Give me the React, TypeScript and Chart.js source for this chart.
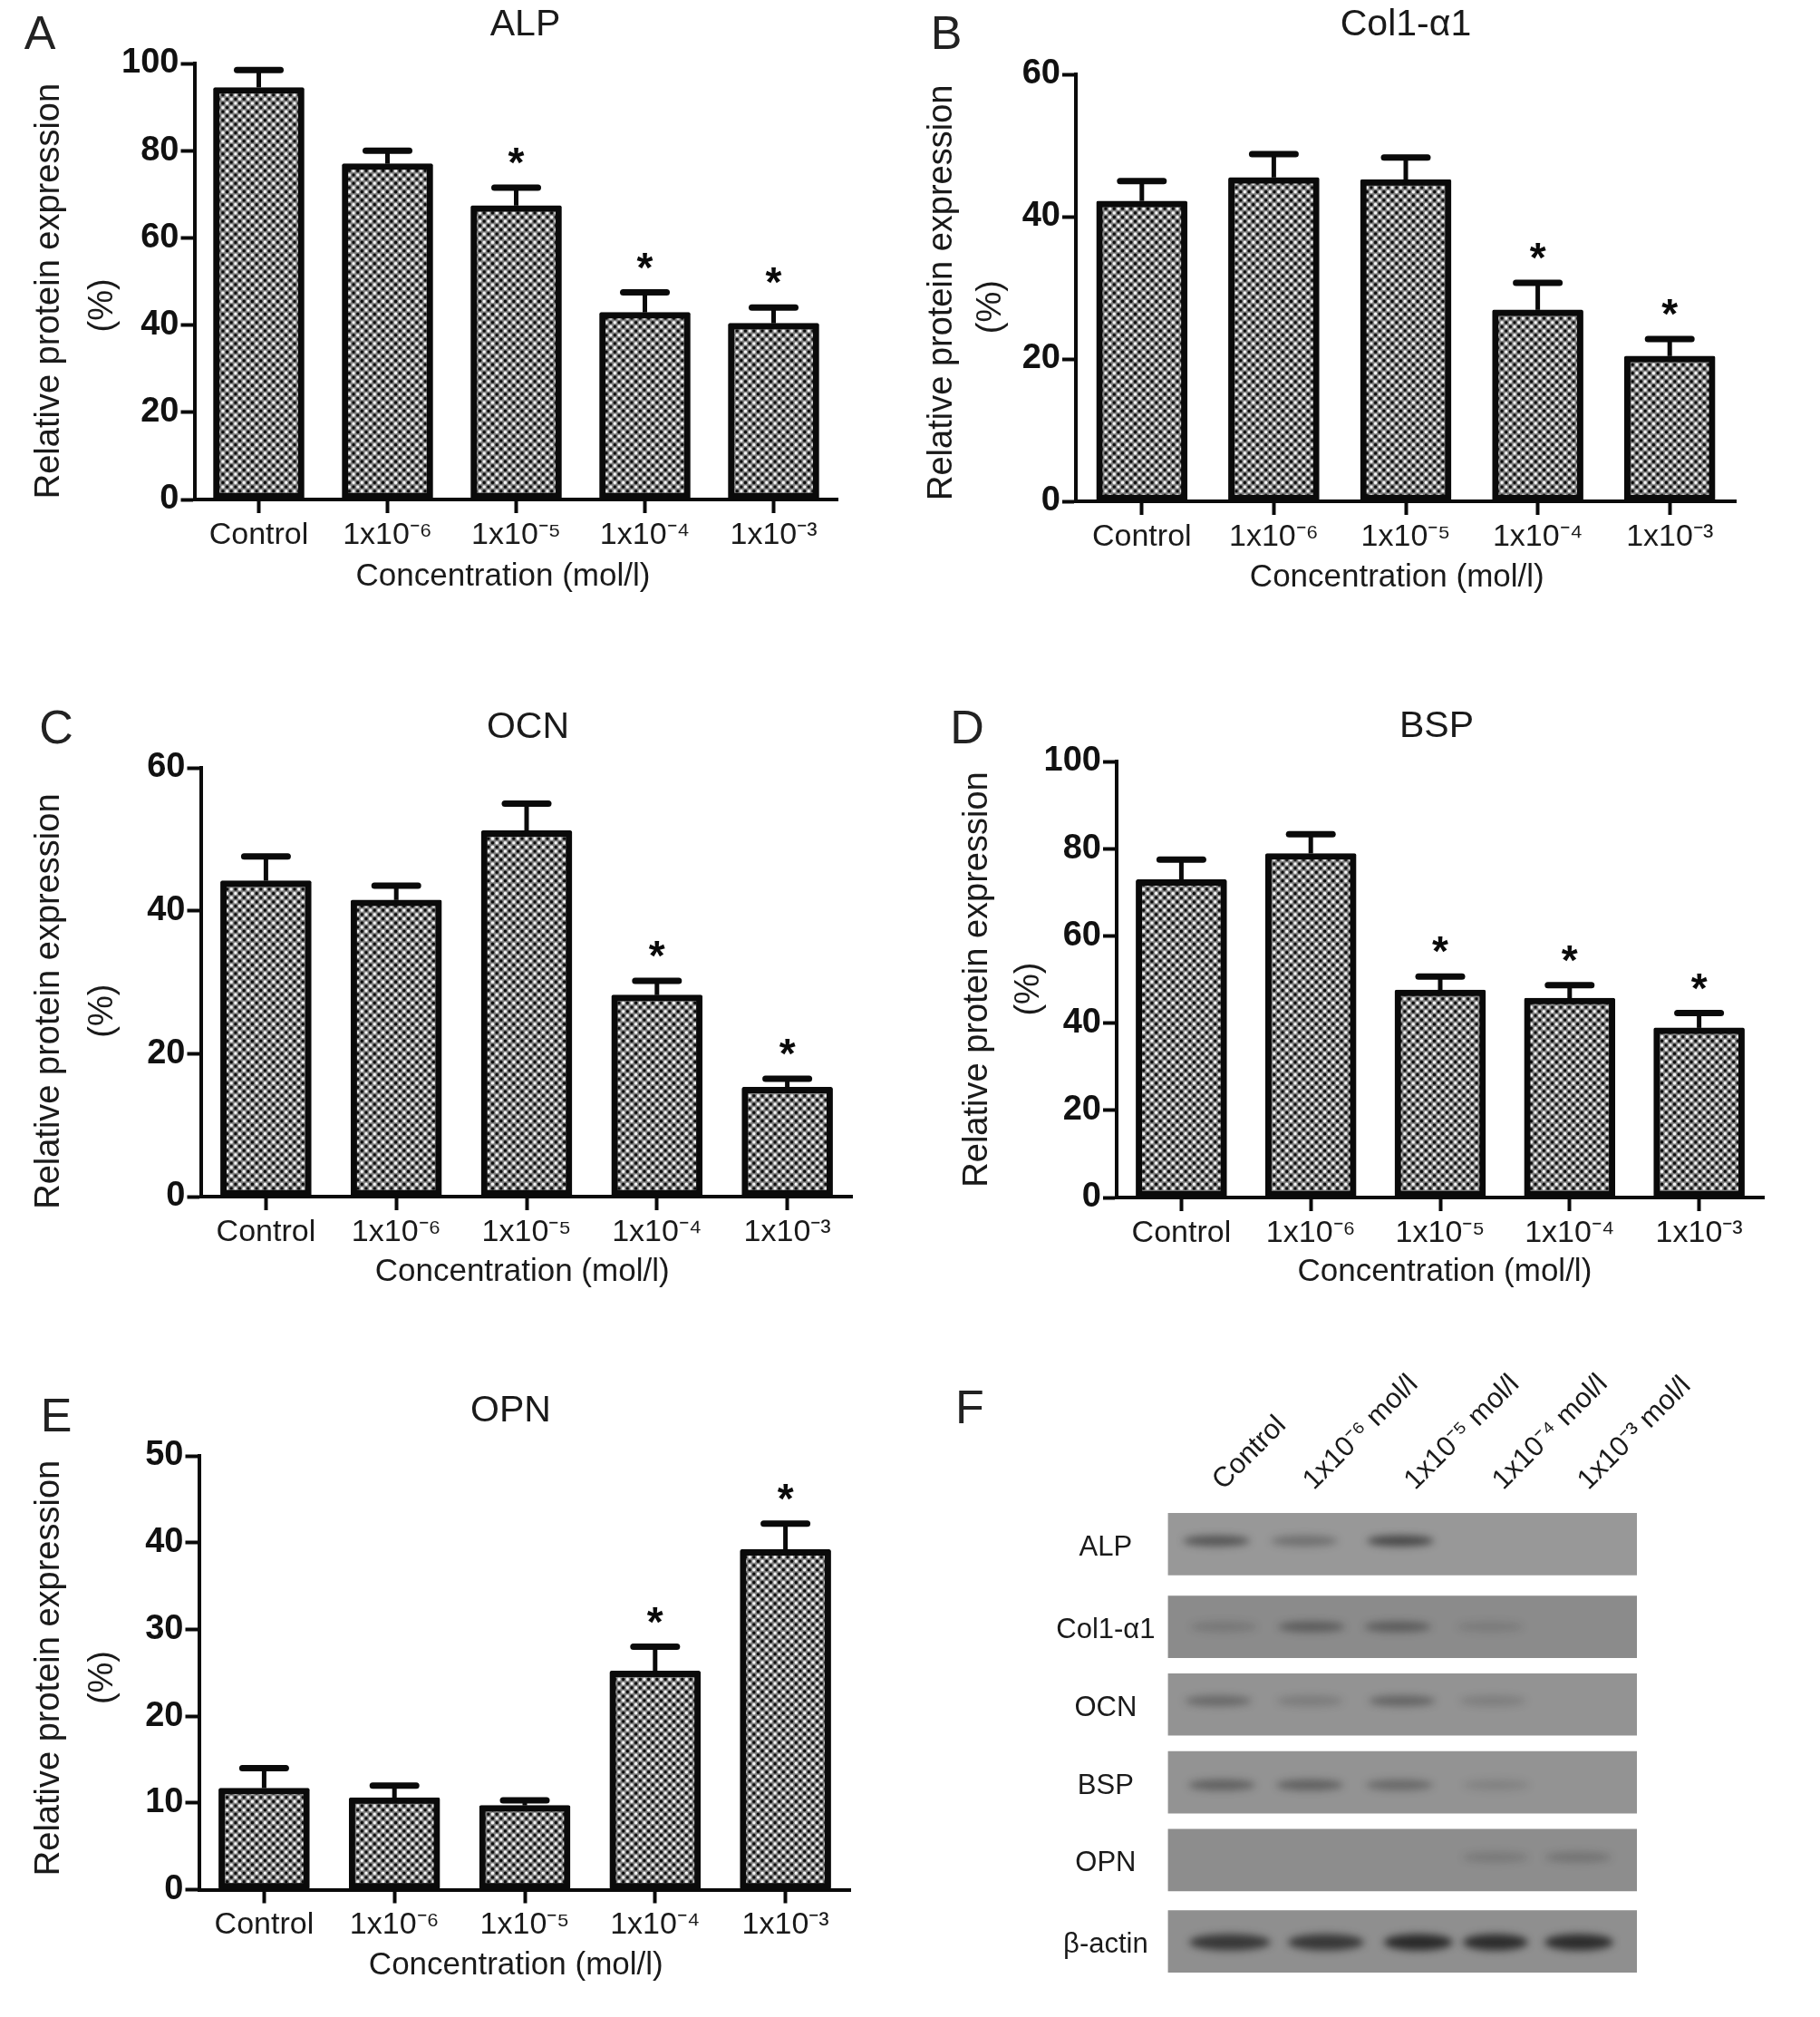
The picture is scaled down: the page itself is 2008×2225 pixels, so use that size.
import React, { useEffect, useRef } from "react";
import { Chart, registerables } from "chart.js";

Chart.register(...registerables);

const FONT = "'Liberation Sans', Arial, sans-serif";

// ---- data ----
const doseLabels = ["Control", "1x10⁻⁶", "1x10⁻⁵", "1x10⁻⁴", "1x10⁻³"];
const alpValues = [94.5, 77, 67.4, 42.9, 40.4];
const alpErrors = [4, 3, 4.1, 4.6, 3.6];
const alpStars = [false, false, true, true, true];
const colValues = [42.2, 45.5, 45.2, 26.9, 20.4];
const colErrors = [2.8, 3.3, 3.1, 3.8, 2.4];
const colStars = [false, false, false, true, true];
const ocnValues = [44.2, 41.5, 51.2, 28.2, 15.3];
const ocnErrors = [3.4, 2, 3.8, 2, 1.2];
const ocnStars = [false, false, false, true, true];
const bspValues = [72.9, 78.9, 47.6, 45.7, 38.9];
const bspErrors = [4.6, 4.4, 3.1, 3, 3.4];
const bspStars = [false, false, true, true, true];
const opnValues = [11.7, 10.6, 9.7, 25.2, 39.2];
const opnErrors = [2.3, 1.4, 0.6, 2.8, 3];
const opnStars = [false, false, false, true, true];

const blotProteins = ["ALP", "Col1-α1", "OCN", "BSP", "OPN", "β-actin"];
const blotRowAt = [0, 1.041, 2.019, 2.998, 3.976, 5];
const blotBandShift = [-3.5, 0, -4, 3, -3, 1];
const blotLanes = ["Control", "1x10⁻⁶ mol/l", "1x10⁻⁵ mol/l", "1x10⁻⁴ mol/l", "1x10⁻³ mol/l"];
const blotLabelAt = [0.23, 1.24, 2.37, 3.35, 4.3];
const blotGrey = ["#989898", "#8b8b8b", "#939393", "#939393", "#8d8d8d", "#8f8f8f"];
// band = [lane position, darkness]
const bandAlp = [[-0.05, 0.7], [0.93, 0.42], [2.0, 0.85]];
const bandCol = [[0.03, 0.22], [1.01, 0.55], [1.97, 0.55], [3.0, 0.17]];
const bandOcn = [[-0.03, 0.45], [0.99, 0.25], [2.02, 0.5], [3.03, 0.22]];
const bandBsp = [[0.01, 0.55], [0.99, 0.55], [1.99, 0.45], [3.07, 0.17]];
const bandOpn = [[3.06, 0.22], [3.98, 0.28]];
const bandActin = [[0.1, 0.78], [1.17, 0.78], [2.2, 0.9], [3.06, 0.88], [3.99, 0.88]];
const actinHalfWidth = [45, 42, 38, 36, 38];

// ---- layout (page pixels) ----
const panels = [
  { name: "ALP", letter: "A", lx: 44, ly: 36, values: alpValues, errors: alpErrors, stars: alpStars, max: 100, step: 20,
    L: 214, T: 70, R: 924, B: 551, CX: 24.5, CY: 0, tx: 579, ty: 28, xt: 636, xOff: -13, yLine: 59, yOff1: 11.5, yOff2: 27 },
  { name: "Col1-α1", letter: "B", lx: 1044, ly: 36, values: colValues, errors: colErrors, stars: colStars, max: 60, step: 20,
    L: 1187, T: 82, R: 1915, B: 553, CX: 1013, CY: 0, tx: 1551, ty: 28, xt: 637, xOff: -11, yLine: 54, yOff1: 4.5, yOff2: 20 },
  { name: "OCN", letter: "C", lx: 62, ly: 802, values: ocnValues, errors: ocnErrors, stars: ocnStars, max: 60, step: 20,
    L: 221, T: 847, R: 940, B: 1320, CX: 24.5, CY: 760, tx: 582, ty: 803, xt: 1403, xOff: -5, yLine: 59, yOff1: 19, yOff2: 30 },
  { name: "BSP", letter: "D", lx: 1067, ly: 802, values: bspValues, errors: bspErrors, stars: bspStars, max: 100, step: 20,
    L: 1232, T: 840, R: 1946, B: 1321, CX: 1050, CY: 760, tx: 1585, ty: 802, xt: 1403, xOff: 6, yLine: 57, yOff1: -2, yOff2: 10 },
  { name: "OPN", letter: "E", lx: 62, ly: 1561, values: opnValues, errors: opnErrors, stars: opnStars, max: 50, step: 10,
    L: 219, T: 1606, R: 938, B: 2084.5, CX: 24.5, CY: 1520, tx: 563, ty: 1557, xt: 2168, xOff: -12, yLine: 59, yOff1: -5, yOff2: 7 },
];

const shift = (text: string, off: number, size: number) => {
  const n = Math.round((2 * Math.abs(off)) / (size * 0.278));
  const s = " ".repeat(n);
  return off >= 0 ? s + text : text + s;
};

function makeHatch(ctx: CanvasRenderingContext2D) {
  const t = document.createElement("canvas");
  t.width = 10;
  t.height = 10;
  const c = t.getContext("2d")!;
  c.fillStyle = "#808080";
  c.fillRect(0, 0, 10, 10);
  const dot = (x: number, y: number, col: string) => {
    c.fillStyle = col;
    c.beginPath();
    c.arc(x, y, 1.9, 0, Math.PI * 2);
    c.fill();
  };
  dot(2.5, 2.5, "#f4f4f4");
  dot(7.5, 7.5, "#f4f4f4");
  dot(7.5, 2.5, "#0c0c0c");
  dot(2.5, 7.5, "#0c0c0c");
  const p = ctx.createPattern(t, "repeat")!;
  p.setTransform(new DOMMatrix().scale(0.93));
  return p;
}

const whiskers = {
  id: "whiskers",
  afterDatasetsDraw(chart: any, _a: any, o: any) {
    const { ctx, scales } = chart;
    ctx.save();
    ctx.strokeStyle = "#0a0a0a";
    chart.data.labels.forEach((_: any, i: number) => {
      const x = scales.x.getPixelForValue(i);
      const y0 = scales.y.getPixelForValue(o.values[i]);
      const y1 = scales.y.getPixelForValue(o.values[i] + o.errors[i]);
      ctx.lineCap = "butt";
      ctx.lineWidth = 5;
      ctx.beginPath();
      ctx.moveTo(x, y0);
      ctx.lineTo(x, y1);
      ctx.stroke();
      ctx.lineCap = "round";
      ctx.lineWidth = 7;
      ctx.beginPath();
      ctx.moveTo(x - 24, y1);
      ctx.lineTo(x + 24, y1);
      ctx.stroke();
      if (o.stars[i]) {
        ctx.fillStyle = "#0a0a0a";
        ctx.font = `bold 46px ${FONT}`;
        ctx.textAlign = "center";
        ctx.textBaseline = "alphabetic";
        ctx.fillText("*", x, y1 - 12);
      }
    });
    ctx.restore();
  },
};

function BarPanel({ p }: { p: (typeof panels)[number] }) {
  const ref = useRef<HTMLCanvasElement>(null);
  const CW = 2 * (p.tx - p.CX);
  const titleLH = 41 * 1.2;
  const bottom = p.xt + (35 * 1.2) / 2;
  const CH = bottom - p.CY;
  useEffect(() => {
    const canvas = ref.current!;
    const ctx = canvas.getContext("2d")!;
    const chart = new Chart(canvas, {
      type: "bar",
      plugins: [whiskers],
      data: {
        labels: doseLabels,
        datasets: [
          {
            data: p.values,
            backgroundColor: makeHatch(ctx),
            borderColor: "#0a0a0a",
            borderWidth: 7,
            borderSkipped: false,
            borderRadius: 2,
            barThickness: 100,
          },
        ],
      },
      options: {
        animation: false,
        responsive: false,
        devicePixelRatio: 1,
        layout: { padding: 0 },
        plugins: {
          legend: { display: false },
          tooltip: { enabled: false },
          title: {
            display: true,
            text: p.name,
            color: "#1a1a1a",
            font: { family: FONT, size: 41, weight: "normal", lineHeight: 1.2 },
            padding: { top: p.ty - p.CY - titleLH / 2, bottom: p.T - p.ty - titleLH / 2 },
          },
          whiskers: { values: p.values, errors: p.errors, stars: p.stars },
        },
        scales: {
          x: {
            type: "category",
            offset: true,
            afterFit: (s: any) => {
              s.height = bottom - p.B;
            },
            border: { display: true, color: "#0a0a0a", width: 4 },
            grid: { display: true, offset: false, drawOnChartArea: false, drawTicks: true, tickLength: 15, tickWidth: 4, tickColor: "#0a0a0a" },
            ticks: { color: "#1a1a1a", font: { family: FONT, size: 34 }, padding: 4, maxRotation: 0, minRotation: 0, autoSkip: false },
            title: {
              display: true,
              text: shift("Concentration (mol/l)", p.xOff, 35),
              color: "#1a1a1a",
              font: { family: FONT, size: 35, lineHeight: 1.2 },
              padding: 0,
            },
          },
          y: {
            type: "linear",
            min: 0,
            max: p.max,
            afterFit: (s: any) => {
              s.width = p.L - p.CX;
            },
            border: { display: true, color: "#0a0a0a", width: 4 },
            grid: { display: true, drawOnChartArea: false, drawTicks: true, tickLength: 15, tickWidth: 4, tickColor: "#0a0a0a" },
            ticks: { stepSize: p.step, color: "#111", font: { family: FONT, size: 38, weight: "bold" }, padding: 2 },
            title: {
              display: true,
              text: [shift("Relative protein expression", -p.yOff1, 38), shift("(%)", -p.yOff2, 38)],
              color: "#1a1a1a",
              font: { family: FONT, size: 38, lineHeight: p.yLine / 38 },
              padding: 0,
            },
          },
          // empty spacer, keeps the title centred on the canvas while the plot stops at R
          spacer: {
            type: "linear",
            axis: "y",
            position: "right",
            min: 0,
            max: 1,
            afterFit: (s: any) => {
              s.width = p.CX + CW - p.R;
            },
            border: { display: false },
            grid: { display: false },
            ticks: { display: false },
          },
        },
      },
    } as any);
    return () => chart.destroy();
  }, []);
  return (
    <canvas
      ref={ref}
      width={CW}
      height={CH}
      style={{ position: "absolute", left: p.CX, top: p.CY, width: CW, height: CH, display: "block" }}
    />
  );
}

// ---- Panel F, blot ----
const blotL = 1288.5;
const blotR = 1806;
const blotT = 1659.5;
const blotB = 2187;
const laneFirst = 1347;
const laneStep = 99;
const blotBands = [bandAlp, bandCol, bandOcn, bandBsp, bandOpn, bandActin];

const bands = {
  id: "bands",
  afterDatasetsDraw(chart: any) {
    const { ctx, scales } = chart;
    ctx.save();
    ctx.filter = "blur(4px)";
    blotBands.forEach((row, r) => {
      const actin = r === 5;
      row.forEach(([lane, v], i) => {
        const x = scales.x.getPixelForValue(lane);
        const y = scales.y.getPixelForValue(blotRowAt[r]) + blotBandShift[r];
        ctx.fillStyle = `rgba(25,25,25,${v * (actin ? 0.95 : 0.75)})`;
        ctx.beginPath();
        ctx.ellipse(x, y, actin ? actinHalfWidth[i] : 37, actin ? 9 : 6, 0, 0, Math.PI * 2);
        ctx.fill();
      });
    });
    ctx.restore();
  },
};

function BlotPanel() {
  const ref = useRef<HTMLCanvasElement>(null);
  const CX = 1120;
  const CY = 1470;
  const CW = 800;
  const CH = 740;
  useEffect(() => {
    const min = (blotL - laneFirst) / laneStep;
    const max = (blotR - laneFirst) / laneStep;
    const chart = new Chart(ref.current!, {
      type: "bar",
      plugins: [bands],
      data: {
        datasets: [
          {
            data: blotProteins.map((_, i) => ({ x: [min, max], y: blotRowAt[i] })),
            backgroundColor: blotGrey,
            borderWidth: 0,
            barThickness: 68,
          },
        ],
      },
      options: {
        indexAxis: "y",
        animation: false,
        responsive: false,
        devicePixelRatio: 1,
        layout: { padding: { left: 0, top: 0, right: CX + CW - blotR, bottom: CY + CH - blotB } },
        plugins: { legend: { display: false }, tooltip: { enabled: false } },
        scales: {
          x: {
            type: "linear",
            position: "top",
            min,
            max,
            afterBuildTicks: (s: any) => {
              s.ticks = blotLabelAt.map((value) => ({ value }));
            },
            afterFit: (s: any) => {
              s.height = blotT - CY;
            },
            border: { display: false },
            grid: { display: false },
            ticks: {
              callback: (_v: any, i: number) => blotLanes[i],
              color: "#1a1a1a",
              font: { family: FONT, size: 31 },
              minRotation: 45,
              maxRotation: 45,
              autoSkip: false,
              padding: 0,
            },
          },
          y: {
            type: "linear",
            offset: false,
            reverse: true,
            min: -0.5,
            max: 5.5,
            afterBuildTicks: (s: any) => {
              s.ticks = blotRowAt.map((value) => ({ value }));
            },
            afterFit: (s: any) => {
              s.width = blotL - CX;
            },
            border: { display: false },
            grid: { display: false },
            ticks: {
              callback: (_v: any, i: number) => blotProteins[i],
              color: "#1a1a1a",
              font: { family: FONT, size: 31 },
              crossAlign: "center",
              padding: 6,
              labelOffset: 4,
              autoSkip: false,
            },
          },
        },
      },
    } as any);
    return () => chart.destroy();
  }, []);
  return (
    <canvas
      ref={ref}
      width={CW}
      height={CH}
      style={{ position: "absolute", left: CX, top: CY, width: CW, height: CH, display: "block" }}
    />
  );
}

const letterStyle = (x: number, y: number): React.CSSProperties => ({
  position: "absolute",
  left: x,
  top: y,
  transform: "translate(-50%,-50%)",
  font: `52px ${FONT}`,
  color: "#222",
});

export default function App() {
  return (
    <div style={{ position: "absolute", left: 0, top: 0, width: 2008, height: 2225, overflow: "hidden", background: "#fff" }}>
      {panels.map((p) => (
        <BarPanel key={p.letter} p={p} />
      ))}
      <BlotPanel />
      {panels.map((p) => (
        <div key={p.letter} style={letterStyle(p.lx, p.ly)}>
          {p.letter}
        </div>
      ))}
      <div style={letterStyle(1070, 1552)}>F</div>
    </div>
  );
}
